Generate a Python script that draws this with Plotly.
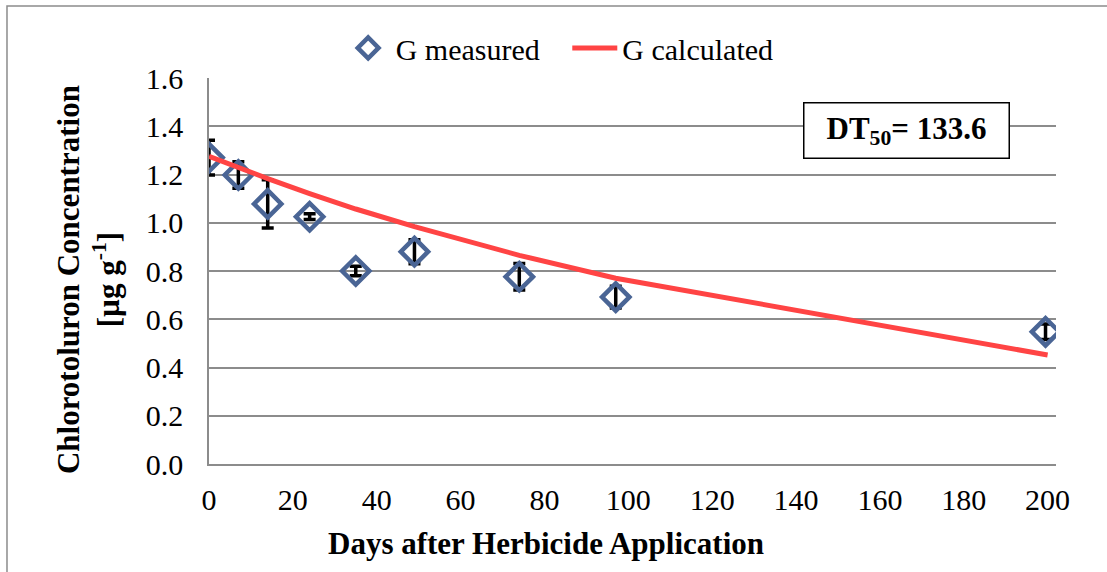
import plotly.graph_objects as go

# Measured data
days_meas = [0, 7, 14, 24, 35, 49, 74, 97, 199.5]
conc_meas = [1.27, 1.198, 1.078, 1.025, 0.80, 0.88, 0.776, 0.692, 0.548]
err_meas = [0.072, 0.055, 0.10, 0.012, 0.02, 0.05, 0.055, 0.045, 0.032]

# Calculated curve
days_calc = [0, 7, 14, 24, 35, 49, 74, 97, 200]
conc_calc = [1.275, 1.228, 1.183, 1.121, 1.057, 0.984, 0.865, 0.770, 0.452]

x_ticks = list(range(0, 201, 20))
y_ticks = [0.0, 0.2, 0.4, 0.6, 0.8, 1.0, 1.2, 1.4, 1.6]

FONT = "Liberation Serif"
GRID = "#8c8c8c"

fig = go.Figure()
fig.add_trace(go.Scatter(
    x=days_meas, y=conc_meas, mode="markers", name="G measured\u00a0\u00a0\u00a0",
    marker=dict(symbol="diamond-open", size=21, color="#4a6595",
                line=dict(width=4.5, color="#4a6595")),
    error_y=dict(type="data", array=err_meas, visible=True,
                 color="black", thickness=3.5, width=6),
))
fig.add_trace(go.Scatter(
    x=days_calc, y=conc_calc, mode="lines", name="G calculated",
    line=dict(color="#ff4444", width=5),
))

fig.update_layout(
    width=1107, height=572,
    margin=dict(l=209, r=51, t=78, b=108),
    paper_bgcolor="white", plot_bgcolor="white",
    font=dict(family=FONT, size=30, color="black"),
    showlegend=True,
    legend=dict(orientation="h", x=0.414, y=1.078, xanchor="center", yanchor="middle",
                font=dict(family=FONT, size=30, color="black"),
                bgcolor="rgba(0,0,0,0)", itemwidth=45, tracegroupgap=0),
    xaxis=dict(range=[0, 202], tickvals=x_ticks, ticktext=[str(v) for v in x_ticks],
               showgrid=False, zeroline=False, showline=True, linecolor=GRID,
               linewidth=1.5, ticks="outside", ticklen=8, tickcolor="rgba(0,0,0,0)",
               tickfont=dict(family=FONT, size=30, color="black")),
    yaxis=dict(range=[0, 1.6], tickvals=y_ticks, ticktext=[f"{v:.1f}" for v in y_ticks],
               showgrid=True, gridcolor=GRID, gridwidth=1.5, zeroline=False,
               showline=True, linecolor=GRID, linewidth=1.5,
               ticks="outside", ticklen=18, tickcolor="rgba(0,0,0,0)",
               tickfont=dict(family=FONT, size=30, color="black")),
    shapes=[
        dict(type="rect", xref="paper", yref="paper",
             x0=-0.2385, x1=1.0625, y0=-0.29, y1=1.1865,
             line=dict(color="#8c8c8c", width=1.5), fillcolor="rgba(0,0,0,0)",
             layer="below"),
    ],
    annotations=[
        dict(text="<b>Days after Herbicide Application</b>", xref="paper", yref="paper",
             x=0.398, y=-0.205, xanchor="center", yanchor="middle", showarrow=False,
             font=dict(family=FONT, size=31, color="black")),
        dict(text="<b>Chlorotoluron Concentration<br>[µg g<sup>-1</sup>]</b>",
             xref="paper", yref="paper", x=-0.1429, y=0.479, xanchor="center",
             yanchor="middle", textangle=-90, showarrow=False,
             font=dict(family=FONT, size=31, color="black")),
        dict(text="<b>DT<sub>50</sub>= 133.6</b>", xref="paper", yref="paper",
             x=0.823, y=0.865, xanchor="center", yanchor="middle", showarrow=False,
             font=dict(family=FONT, size=31, color="black"), bordercolor="black",
             borderwidth=1.5, bgcolor="white", width=192, height=42, borderpad=6),
    ],
)

fig.write_html("out.html")
